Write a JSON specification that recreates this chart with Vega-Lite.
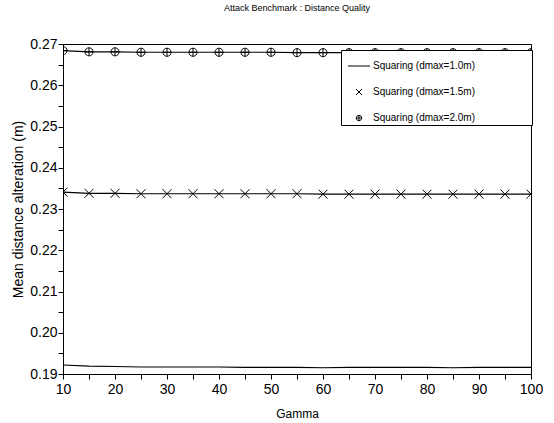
{
  "$schema": "https://vega.github.io/schema/vega-lite/v6.json",
  "width": 468,
  "height": 330,
  "autosize": {"type": "none"},
  "padding": {"left": 63, "top": 44, "right": 23, "bottom": 49},
  "background": "white",
  "title": {"text": "Attack Benchmark : Distance Quality", "fontSize": 9, "fontWeight": "normal", "font": "Liberation Sans", "color": "black", "offset": 24, "anchor": "middle"},
  "config": {
    "view": {"stroke": "black", "strokeWidth": 1},
    "font": "Liberation Sans",
    "axis": {"domain": false, "grid": false, "tickColor": "black", "tickSize": 5, "tickWidth": 1, "labelColor": "black", "labelFontSize": 14, "labelFont": "Liberation Sans", "titleFont": "Liberation Sans", "titleFontWeight": "normal", "titleColor": "black", "labelOverlap": false, "labelFlush": false}
  },
  "data": {"values": [
    {"g": 10, "s": "Squaring (dmax=1.0m)", "v": 0.1922},
    {"g": 15, "s": "Squaring (dmax=1.0m)", "v": 0.1919},
    {"g": 20, "s": "Squaring (dmax=1.0m)", "v": 0.1918},
    {"g": 25, "s": "Squaring (dmax=1.0m)", "v": 0.1917},
    {"g": 30, "s": "Squaring (dmax=1.0m)", "v": 0.1917},
    {"g": 35, "s": "Squaring (dmax=1.0m)", "v": 0.1917},
    {"g": 40, "s": "Squaring (dmax=1.0m)", "v": 0.1917},
    {"g": 45, "s": "Squaring (dmax=1.0m)", "v": 0.1916},
    {"g": 50, "s": "Squaring (dmax=1.0m)", "v": 0.1916},
    {"g": 55, "s": "Squaring (dmax=1.0m)", "v": 0.1916},
    {"g": 60, "s": "Squaring (dmax=1.0m)", "v": 0.1915},
    {"g": 65, "s": "Squaring (dmax=1.0m)", "v": 0.1916},
    {"g": 70, "s": "Squaring (dmax=1.0m)", "v": 0.1916},
    {"g": 75, "s": "Squaring (dmax=1.0m)", "v": 0.1916},
    {"g": 80, "s": "Squaring (dmax=1.0m)", "v": 0.1916},
    {"g": 85, "s": "Squaring (dmax=1.0m)", "v": 0.1915},
    {"g": 90, "s": "Squaring (dmax=1.0m)", "v": 0.1916},
    {"g": 95, "s": "Squaring (dmax=1.0m)", "v": 0.1916},
    {"g": 100, "s": "Squaring (dmax=1.0m)", "v": 0.1916},
    {"g": 10, "s": "Squaring (dmax=1.5m)", "v": 0.2341},
    {"g": 15, "s": "Squaring (dmax=1.5m)", "v": 0.2338},
    {"g": 20, "s": "Squaring (dmax=1.5m)", "v": 0.2338},
    {"g": 25, "s": "Squaring (dmax=1.5m)", "v": 0.2337},
    {"g": 30, "s": "Squaring (dmax=1.5m)", "v": 0.2337},
    {"g": 35, "s": "Squaring (dmax=1.5m)", "v": 0.2337},
    {"g": 40, "s": "Squaring (dmax=1.5m)", "v": 0.2337},
    {"g": 45, "s": "Squaring (dmax=1.5m)", "v": 0.2337},
    {"g": 50, "s": "Squaring (dmax=1.5m)", "v": 0.2337},
    {"g": 55, "s": "Squaring (dmax=1.5m)", "v": 0.2337},
    {"g": 60, "s": "Squaring (dmax=1.5m)", "v": 0.2336},
    {"g": 65, "s": "Squaring (dmax=1.5m)", "v": 0.2336},
    {"g": 70, "s": "Squaring (dmax=1.5m)", "v": 0.2336},
    {"g": 75, "s": "Squaring (dmax=1.5m)", "v": 0.2336},
    {"g": 80, "s": "Squaring (dmax=1.5m)", "v": 0.2336},
    {"g": 85, "s": "Squaring (dmax=1.5m)", "v": 0.2336},
    {"g": 90, "s": "Squaring (dmax=1.5m)", "v": 0.2336},
    {"g": 95, "s": "Squaring (dmax=1.5m)", "v": 0.2336},
    {"g": 100, "s": "Squaring (dmax=1.5m)", "v": 0.2336},
    {"g": 10, "s": "Squaring (dmax=2.0m)", "v": 0.2684},
    {"g": 15, "s": "Squaring (dmax=2.0m)", "v": 0.2681},
    {"g": 20, "s": "Squaring (dmax=2.0m)", "v": 0.2681},
    {"g": 25, "s": "Squaring (dmax=2.0m)", "v": 0.2680},
    {"g": 30, "s": "Squaring (dmax=2.0m)", "v": 0.2680},
    {"g": 35, "s": "Squaring (dmax=2.0m)", "v": 0.2680},
    {"g": 40, "s": "Squaring (dmax=2.0m)", "v": 0.2680},
    {"g": 45, "s": "Squaring (dmax=2.0m)", "v": 0.2680},
    {"g": 50, "s": "Squaring (dmax=2.0m)", "v": 0.2680},
    {"g": 55, "s": "Squaring (dmax=2.0m)", "v": 0.2679},
    {"g": 60, "s": "Squaring (dmax=2.0m)", "v": 0.2679},
    {"g": 65, "s": "Squaring (dmax=2.0m)", "v": 0.2679},
    {"g": 70, "s": "Squaring (dmax=2.0m)", "v": 0.2679},
    {"g": 75, "s": "Squaring (dmax=2.0m)", "v": 0.2679},
    {"g": 80, "s": "Squaring (dmax=2.0m)", "v": 0.2679},
    {"g": 85, "s": "Squaring (dmax=2.0m)", "v": 0.2679},
    {"g": 90, "s": "Squaring (dmax=2.0m)", "v": 0.2679},
    {"g": 95, "s": "Squaring (dmax=2.0m)", "v": 0.2679},
    {"g": 100, "s": "Squaring (dmax=2.0m)", "v": 0.2679}
  ]},
  "encoding": {
    "x": {"field": "g", "type": "quantitative", "scale": {"domain": [10, 100], "nice": false, "zero": false},
      "axis": {"title": "Gamma", "titleFontSize": 12, "titlePadding": 12, "labelPadding": 3,
        "values": [10, 15, 20, 25, 30, 35, 40, 45, 50, 55, 60, 65, 70, 75, 80, 85, 90, 95, 100],
        "labelExpr": "datum.value % 10 == 0 ? datum.label : ''"}},
    "y": {"field": "v", "type": "quantitative", "scale": {"domain": [0.19, 0.27], "nice": false, "zero": false},
      "axis": {"title": "Mean distance alteration (m)", "titleFontSize": 14, "titlePadding": 4, "labelPadding": 1,
        "values": [0.19, 0.195, 0.2, 0.205, 0.21, 0.215, 0.22, 0.225, 0.23, 0.235, 0.24, 0.245, 0.25, 0.255, 0.26, 0.265, 0.27],
        "labelExpr": "round(datum.value * 1000) % 10 == 0 ? format(datum.value, '.2f') : ''"}}
  },
  "layer": [
    {"mark": {"type": "line", "color": "black", "strokeWidth": 1.1, "clip": true},
     "encoding": {"detail": {"field": "s", "type": "nominal"}}},
    {"mark": {"type": "point", "filled": false, "color": "black", "strokeWidth": 1, "size": 81, "opacity": 1, "clip": true},
     "encoding": {
       "strokeOpacity": {"condition": {"test": "datum.s === 'Squaring (dmax=1.0m)'", "value": 0}, "value": 1},
       "shape": {"field": "s", "type": "nominal",
       "scale": {"domain": ["Squaring (dmax=1.0m)", "Squaring (dmax=1.5m)", "Squaring (dmax=2.0m)"],
         "range": ["M-3.7,0L3.7,0", "M-1,-1L1,1M-1,1L1,-1", "M-0.9,0A0.9,0.9 0 1,0 0.9,0A0.9,0.9 0 1,0 -0.9,0M-0.9,0L0.9,0M0,-0.9L0,0.9"]},
       "legend": {"orient": "none", "legendX": 278, "legendY": 6,
         "title": "\u2800", "titleFontSize": 9, "titlePadding": 0,
         "fillColor": "white", "strokeColor": "black", "padding": 2,
         "symbolSize": 36, "symbolStrokeWidth": 1, "symbolStrokeColor": "black", "symbolFillColor": "transparent", "symbolOpacity": 1,
         "symbolOffset": 11, "labelOffset": 9, "rowPadding": 16, "labelLimit": 400,
         "labelFontSize": 10, "labelFont": "Liberation Sans", "labelColor": "black",
         "labelExpr": "datum.label + '\u00a0\u00a0\u00a0\u00a0\u00a0\u00a0\u00a0\u00a0\u00a0\u00a0\u00a0\u00a0\u00a0\u00a0\u00a0\u00a0\u00a0\u2800'"}}}}
  ]
}
